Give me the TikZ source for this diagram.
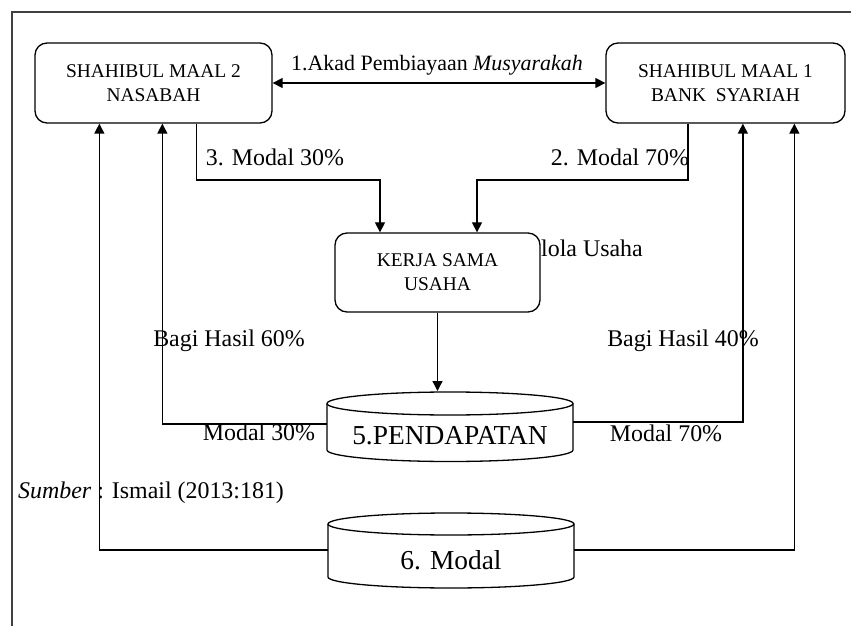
\documentclass[tikz,border=0pt]{standalone}
\usepackage{fontspec}
\setmainfont{Liberation Serif}
\usetikzlibrary{arrows.meta}
\tikzset{
  box/.style={draw, line width=1.3bp, rounded corners=12bp, align=center, inner sep=0pt,
    font=\fontsize{19.5}{24}\selectfont},
  lab/.style={inner sep=0pt, font=\fontsize{24}{28}\selectfont},
  cyltext/.style={inner sep=0pt, font=\fontsize{27.5}{32}\selectfont},
  conn/.style={line width=1.3bp},
  arr/.style={conn, -{Triangle[length=10bp,width=10bp]}},
  arrboth/.style={conn, {Triangle[length=10bp,width=10bp]}-{Triangle[length=10bp,width=10bp]}},
  cyl/.style={line width=1.3bp, fill=white}
}
\begin{document}
\begin{tikzpicture}[x=1bp,y=-1bp]
\useasboundingbox (0,0) rectangle (851,626);
% frame
\draw[line width=2bp, black!75] (12,626) -- (12,12) -- (851,12);

% boxes
\node[box, minimum width=237bp, minimum height=80bp] (sm2) at (153.5,83) {SHAHIBUL MAAL 2\\NASABAH};
\node[box, minimum width=239bp, minimum height=80bp] (sm1) at (725.5,83) {SHAHIBUL MAAL 1\\BANK\ \ SYARIAH};
\node[box, minimum width=205bp, minimum height=79bp] (ksu) at (437.5,272.5) {KERJA SAMA\\USAHA};

% cylinder 5
\draw[cyl] (327,403.5) -- (327,450) arc[start angle=180, end angle=360, x radius=123bp, y radius=11.5bp] -- (573,403.5);
\draw[cyl] (450,403.5) ellipse [x radius=123bp, y radius=11.5bp];
\coordinate (p5top) at (450,391);
\coordinate (p5L) at (327,424);
\coordinate (p5R) at (573,422);
\node[cyltext] (p5) at (450,436) {5.PENDAPATAN};

% cylinder 6
\draw[cyl] (328,524) -- (328,577) arc[start angle=180, end angle=360, x radius=123bp, y radius=11bp] -- (574,524);
\draw[cyl] (451,524) ellipse [x radius=123bp, y radius=11bp];
\coordinate (p6L) at (328,550);
\coordinate (p6R) at (574,550);
\node[cyltext] (p6) at (451,560) {6. Modal};

% connectors
\draw[arrboth] (sm2.east) -- (sm1.west);
\node[inner sep=0pt, font=\fontsize{22}{26}\selectfont] (akad) at (437,65) {1.Akad Pembiayaan \textit{Musyarakah}};

\draw[arr] ([xshift=43bp]sm2.south) |- (288,180) -| ([xshift=-57.5bp]ksu.north);
\draw[arr] ([xshift=-37.5bp]sm1.south) |- (580,180) -| ([xshift=39.5bp]ksu.north);
\node[lab] (m3) at (275,157) {3. Modal 30\%};
\node[lab] (m2) at (620,157) {2. Modal 70\%};
\node[lab, anchor=west] (pu) at (541,248) {lola Usaha};

\draw[arr] (ksu.south) -- (ksu.south |- p5top);

\draw[arr] (p5L) -| ([xshift=128bp]sm2.south west);
\draw[arr] (p5R) -| ([xshift=137.5bp]sm1.south west);
\node[lab] (bh60) at (229,341) {Bagi Hasil 60\%};
\node[lab] (bh40) at (683,341) {Bagi Hasil 40\%};
\node[lab] (md30) at (259,432) {Modal 30\%};
\node[lab] (md70) at (666,433) {Modal 70\%};

\draw[arr] (p6L) -| ([xshift=65bp]sm2.south west);
\draw[arr] (p6R) -| ([xshift=189bp]sm1.south west);

\node[lab, anchor=west] (src) at (18,493) {\textit{Sumber} : Ismail (2013:181)};
\end{tikzpicture}
\end{document}
